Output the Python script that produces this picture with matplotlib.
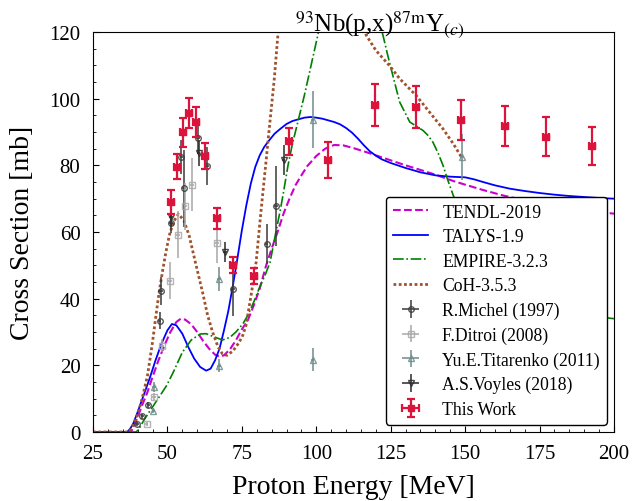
import matplotlib
matplotlib.use("Agg")
import matplotlib.pyplot as plt

plt.rcParams['font.family'] = ['Liberation Serif', 'DejaVu Serif']
plt.rcParams['mathtext.fontset'] = 'stix'

# ---------------- model curves ----------------
talys_E = [25, 36.5, 37.5, 38.5, 40, 42, 44, 46, 48, 50, 51.5, 53, 55, 57, 59, 61, 63, 64.5, 66, 67.5,
           69, 70.5, 72, 73.5, 75, 76.5, 78, 79.5, 81, 82.5, 84, 86, 88, 90, 92, 94, 96, 98, 100,
           102, 104, 106, 108, 110, 112, 114, 116, 118, 120, 122, 125, 130, 135, 140, 145, 150,
           153, 156, 160, 165, 170, 175, 180, 185, 190, 195, 200]
talys_S = [0, 0, 1, 2.5, 6, 11, 16, 21.5, 26.5, 30.5, 32.4, 32, 29.5, 25.5, 22, 19.5, 18.4, 19, 21.5, 25,
           30.5, 36.5, 44, 52, 60.5, 68, 74.5, 79.5, 83, 85.5, 87.3, 89.5, 91, 92.4, 93.3, 93.8, 94.3, 94.5, 94.3,
           94.0, 93.5, 93.0, 92.3, 91.2, 89.8, 88, 86, 84.2, 82.9, 81.8, 80.7, 79.2, 77.9, 77.0, 76.6, 76.4,
           75.8, 75, 74, 73, 72.3, 71.7, 71.2, 70.8, 70.5, 70.2, 70.0]

tendl_E = [25, 37.5, 38.5, 40, 41.5, 43.3, 45, 47, 49, 51, 53, 54.5, 56, 58, 60, 62, 64, 66, 67.5, 69,
           71, 73, 75, 77, 79, 81, 83, 85, 87, 89, 91, 93, 95, 97, 100, 103, 106, 109, 112, 116, 120,
           125, 130, 134, 140, 146, 150, 156, 163, 170, 180, 190, 200]
tendl_S = [0, 0, 1, 4.5, 8, 12, 16.5, 21.5, 26, 30, 33, 34, 33.7, 32.3, 30, 27.3, 25, 23.2, 22.6, 23,
           24.8, 27.5, 30.8, 33.5, 38, 43, 49.5, 55, 60, 65.5, 70, 74, 77, 79.8, 82.8, 85, 86.1, 86, 85.3, 84.2, 83,
           81.5, 80, 78.9, 77.2, 75.3, 74.2, 72.6, 70.9, 69.5, 68, 66.5, 65.5]

empire_E = [25, 39.5, 40.5, 41.6, 43, 45, 47, 49.7, 52, 55, 58, 61, 63, 65.5, 68.5, 71, 73, 75.3, 77, 79,
            81, 83, 84.5, 86, 88, 89, 90.5, 92, 93.8, 96, 98, 100.5, 102, 106, 111, 116, 120, 122.4, 124,
            125.7, 128, 131.4, 134, 135.8, 137.5, 139.2, 141, 142.6, 144, 146, 148, 150, 153, 156, 160,
            165, 170, 175, 180, 185, 190, 195, 200]
empire_S = [0, 0, 1, 2.8, 4.8, 7.5, 10.2, 13.9, 18, 23.9, 27.6, 29.4, 29.5, 28.6, 27.6, 28.4, 30, 32.4, 35, 39,
            43.5, 47.5, 51, 58, 67, 72, 80, 86.5, 93, 101, 109, 119, 125, 136, 141, 137, 127, 119, 113,
            107, 99, 93, 91.5, 90.5, 89, 86.9, 83.5, 79.9, 76, 71, 66.5, 62.5, 57.5, 53, 48.5,
            44.5, 41.5, 39.3, 37.5, 36.2, 35.2, 34.5, 34]

coh_E = [25, 37, 38, 39, 39.9, 41.5, 43.3, 45, 46, 47.2, 48.5, 49.5, 50.6, 52, 53.7, 55.5, 57.3, 59.5, 61.8,
         63.5, 65.2, 67, 68.5, 70, 72, 74.1, 75.3, 76.4, 78.1, 79.8, 81.4, 83.1, 84.2, 85.9, 87, 88, 92,
         100, 108, 113, 116.8, 120, 124.6, 128, 133.6, 138, 142.6, 146, 148.8]
coh_S = [0, 0, 1.2, 3, 4.9, 10, 16.9, 27, 34, 41.9, 49, 54, 58.9, 63, 65.4, 63.5, 58.9, 50.5, 41.9,
         35, 29.9, 25.5, 23.4, 23, 24.3, 26.9, 29, 32, 41, 51, 66, 81, 91, 106, 118, 128, 145,
         155, 145, 128, 119, 114.5, 109.9, 106, 100.9, 96, 90.9, 86.5, 82.4]

# ---------------- experimental data ----------------
michel_E = [39.9, 41.6, 43.6, 47.4, 47.9, 51.2, 54.7, 55.5, 60.2, 63.4, 72.1, 83.3, 86.5]
michel_S = [2.4, 4.7, 8.1, 33.4, 42.3, 62.6, 82.5, 73.1, 88.3, 79.7, 42.9, 56.4, 67.9]
michel_dS = [0.5, 0.7, 1.0, 2.5, 4.2, 3.0, 5.0, 11.5, 5.0, 5.7, 8.0, 6.0, 12.0]

ditroi_E = [43.0, 45.5, 48.1, 50.9, 53.5, 56.0, 58.3, 66.6]
ditroi_S = [2.4, 10.6, 25.9, 45.4, 59.2, 67.7, 74.2, 56.6]
ditroi_dS = [0.5, 1.0, 2.0, 5.5, 7.0, 7.0, 8.0, 6.0]

titarenko_E = [45.3, 45.5, 67.4, 67.4, 98.8, 98.8, 148.9]
titarenko_S = [6.4, 13.6, 45.9, 19.9, 21.7, 93.7, 82.5]
titarenko_dS = [0.8, 1.5, 3.5, 2.0, 3.5, 8.5, 6.8]

voyles_E = [51.2, 60.5, 69.3, 89.0]
voyles_S = [64.4, 83.7, 54.1, 81.5]
voyles_dS = [3.0, 4.0, 3.0, 4.5]

work_E = [51.2, 53.1, 55.1, 57.1, 59.6, 62.6, 66.6, 72.1, 79.1, 90.9, 103.9, 119.6, 133.6, 148.5, 163.3, 177.0, 192.5]
work_S = [69.0, 79.6, 89.9, 95.7, 93.0, 82.8, 64.1, 50.1, 46.8, 87.2, 81.6, 98.1, 97.6, 93.7, 91.7, 88.6, 85.8]
work_dS = [3.7, 3.8, 4.3, 4.5, 4.4, 4.0, 3.1, 2.4, 2.3, 4.1, 5.5, 6.4, 6.3, 6.0, 6.0, 5.8, 5.7]

# ---------------- figure ----------------
fig = plt.figure(figsize=(6.32, 5.02), dpi=100)
ax = fig.add_axes([93 / 632, 69 / 502, 521 / 632, 400 / 502])

ax.plot(tendl_E, tendl_S, color='#cc00cc', ls='--', lw=1.5, label='TENDL-2019')
ax.plot(talys_E, talys_S, color='#0000ff', ls='-', lw=1.3, label='TALYS-1.9')
ax.plot(empire_E, empire_S, color='#008000', ls='-.', lw=1.2, label='EMPIRE-3.2.3')
ax.plot(coh_E, coh_S, color='#a0522d', ls=(0, (1, 0.9)), lw=2.0, label='CoH-3.5.3')

def exp(E, S, dS, marker, color, label):
    ax.errorbar(E, S, yerr=dS, xerr=0.6, fmt=marker, ms=4, mfc='none', mec=color,
                mew=1.0, ecolor=color, elinewidth=1.3, capsize=0, color=color,
                alpha=0.85, label=label, zorder=4)

exp(michel_E, michel_S, michel_dS, 'o', '#3a3a3a', 'R.Michel (1997)')
exp(ditroi_E, ditroi_S, ditroi_dS, 's', '#a8a8a8', 'F.Ditroi (2008)')
exp(titarenko_E, titarenko_S, titarenko_dS, '^', '#6f8c8c', 'Yu.E.Titarenko (2011)')
exp(voyles_E, voyles_S, voyles_dS, 'v', '#2a2a2a', 'A.S.Voyles (2018)')

ax.errorbar(work_E, work_S, yerr=work_dS, xerr=1.0, fmt='s', ms=4, color='#dc143c',
            ecolor='#dc143c', elinewidth=1.6, capsize=2.8, capthick=1.6,
            label='This Work', zorder=5)

ax.set_xlim(25, 200)
ax.set_ylim(0, 120)
ax.set_xticks([25, 50, 75, 100, 125, 150, 175, 200])
ax.set_yticks([0, 20, 40, 60, 80, 100, 120])
ax.set_xticks(range(25, 201, 5), minor=True)
ax.set_yticks(range(0, 121, 5), minor=True)
ax.tick_params(which='both', direction='in', top=False, right=False)
ax.tick_params(which='major', length=4, width=0.8, labelsize=15)
ax.tick_params(which='minor', length=2, width=0.6)
ax.tick_params(axis='x', which='major', pad=8.5)
ax.tick_params(axis='y', which='major', pad=9)

ax.set_xlabel('Proton Energy [MeV]', fontsize=20, labelpad=8)
ax.set_ylabel('Cross Section [mb]', fontsize=20, labelpad=10)

ax.text(0.551, 1.003, r'$^{93}$Nb(p,x)$^{87\mathrm{m}}$Y$_{(c)}$', transform=ax.transAxes,
        ha='center', va='baseline', fontsize=18)

leg = ax.legend(loc='lower right', fontsize=12.7, framealpha=1, edgecolor='k',
                fancybox=True, labelspacing=0.425, borderaxespad=0.4)
leg.get_frame().set_linewidth(1.0)

fig.savefig('out.png', dpi=100)
